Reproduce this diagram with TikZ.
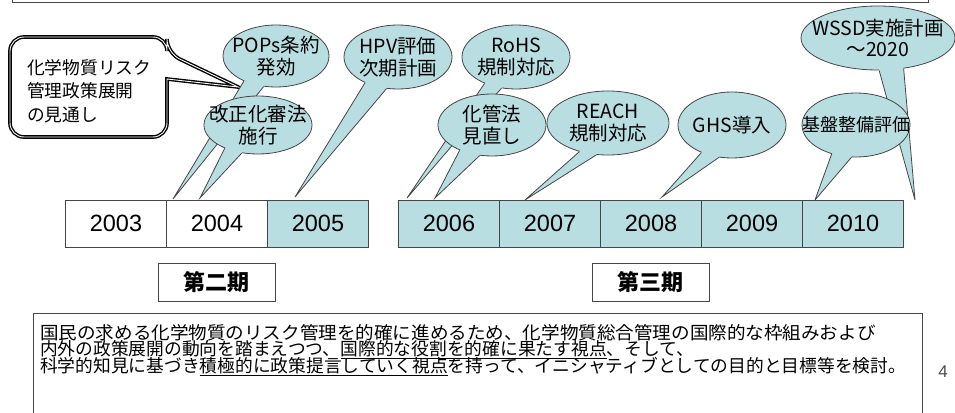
\documentclass[tikz,border=0pt]{standalone}
\usepackage{fontspec}
\usepackage{graphicx}
\setmainfont{Noto Sans CJK JP}
\newfontfamily\arialf{Liberation Sans}
\usetikzlibrary{shapes.geometric,calc}
\definecolor{bubfill}{RGB}{185,222,226}
\definecolor{edgegray}{RGB}{70,70,70}
\tikzset{
  bubble/.style={ellipse, draw=edgegray, fill=bubfill, line width=0.8pt, inner sep=0pt},
  bubtext/.style={align=center, inner sep=0pt, font=\fontsize{19.5}{21.5}\selectfont},
  bubline/.style={draw=edgegray, line width=0.8pt, line join=miter},
  yearbox/.style={draw=edgegray, line width=1pt, minimum width=101pt, minimum height=47pt, inner sep=0pt, font=\arialf\fontsize{23.5}{26}\selectfont},
  periodbox/.style={draw=edgegray, line width=1pt, minimum width=117pt, minimum height=38pt, inner sep=0pt, font=\bfseries\fontsize{22}{24}\selectfont},
  bodyline/.style={anchor=west, inner sep=0pt, font=\fontsize{17.75}{17}\selectfont},
}
\newcommand\bubtail[4]{%
  \fill[bubfill] (#1.#2) -- (#4) -- (#1.#3) -- ($(#1.#3)!3pt!(#1.center)$) -- ($(#1.#2)!3pt!(#1.center)$) -- cycle;
  \draw[bubline] (#1.#2) -- (#4) -- (#1.#3);
}
\begin{document}
\begin{tikzpicture}[x=1pt,y=-1pt]
\useasboundingbox (0,0) rectangle (955,412);
\fill[white] (0,0) rectangle (955,412);

% top frame (only its lower edge is visible)
\draw[edgegray, line width=1pt] (12,-20) rectangle (928,3);

% tip coordinates
\coordinate (tpops) at (173,199);
\coordinate (tkaisei) at (200,198);
\coordinate (thpv) at (295,197);
\coordinate (trohs) at (407,198);
\coordinate (tkakan) at (435,198);
\coordinate (treach) at (525,200);
\coordinate (tghs) at (662,197);
\coordinate (tkiban) at (815,200);
\coordinate (twssd) at (915,200);

% callout
\draw[black, line width=1.4pt, double=white, double distance=0.9pt, fill=white]
  (60,37) [rounded corners=14pt] -- (167,37) -- (167,53) [sharp corners] -- (238,87) -- (167,79)
  [rounded corners=14pt] -- (167,137) -- (10,137) -- (10,37) -- cycle;
\node[anchor=west, align=left, inner sep=0pt, font=\fontsize{17.75}{23.5}\selectfont] (ctext) at (27,91) {化学物質リスク\\管理政策展開\\の見通し};

% bubbles
\node[bubble, minimum width=106pt, minimum height=62pt] (pops) at (276,56) {};
\bubtail{pops}{218}{248}{tpops}
\node[bubtext] (popst) at (pops) {POPs条約\\発効};

\node[bubble, minimum width=108pt, minimum height=58pt] (kaisei) at (258,125) {};
\bubtail{kaisei}{215}{240}{tkaisei}
\node[bubtext] (kaiseit) at (kaisei) {改正化審法\\施行};

\node[bubble, minimum width=108pt, minimum height=64pt] (hpv) at (398,57) {};
\bubtail{hpv}{218}{250}{thpv}
\node[bubtext] (hpvt) at (hpv) {HPV評価\\次期計画};

\node[bubble, minimum width=108pt, minimum height=64pt] (rohs) at (516,57) {};
\bubtail{rohs}{220}{245}{trohs}
\node[bubtext] (rohst) at (rohs) {RoHS\\規制対応};

\node[bubble, minimum width=108pt, minimum height=62pt] (kakan) at (492,125) {};
\bubtail{kakan}{218}{248}{tkakan}
\node[bubtext] (kakant) at (kakan) {化管法\\見直し};

\node[bubble, minimum width=122pt, minimum height=64pt] (reach) at (608,123) {};
\bubtail{reach}{225}{250}{treach}
\node[bubtext] (reacht) at (reach) {REACH\\規制対応};

\node[bubble, minimum width=108pt, minimum height=66pt] (ghs) at (732,125) {};
\bubtail{ghs}{222}{248}{tghs}
\node[bubtext] (ghst) at (ghs) {GHS導入};

\node[bubble, minimum width=154pt, minimum height=64pt] (wssd) at (878,38) {};
\bubtail{wssd}{272}{310}{twssd}
\node[bubtext] (wssdt) at (wssd) {WSSD実施計画\\～2020};

\node[bubble, minimum width=108pt, minimum height=64pt] (kiban) at (856,125) {};
\bubtail{kiban}{230}{262}{tkiban}
\node[bubtext, font=\fontsize{18}{21}\selectfont] (kibant) at (kiban) {基盤整備評価};

% timeline
\node[yearbox, fill=white] (y2003) at (116,223.5) {2003};
\node[yearbox, fill=white] (y2004) at (217,223.5) {2004};
\node[yearbox, fill=bubfill] (y2005) at (318,223.5) {2005};
\node[yearbox, fill=bubfill] (y2006) at (449,223.5) {2006};
\node[yearbox, fill=bubfill] (y2007) at (550,223.5) {2007};
\node[yearbox, fill=bubfill] (y2008) at (651,223.5) {2008};
\node[yearbox, fill=bubfill] (y2009) at (752,223.5) {2009};
\node[yearbox, fill=bubfill] (y2010) at (853,223.5) {2010};

% periods
\node[periodbox] (p2) at (216.5,282) {第二期};
\node[periodbox] (p3) at (650.5,282) {第三期};

% bottom text frame
\draw[edgegray, line width=1pt] (33,313) rectangle (922,440);
\node[bodyline] (l1) at (40,333) {\scalebox{1.046}[1]{国民の求める化学物質のリスク管理を的確に進めるため、化学物質総合管理の国際的な枠組みおよび}};
\node[bodyline] (l2) at (40,350) {内外の政策展開の動向を踏まえつつ、\underline{国際的な役割を的確に果たす視点}、そして、};
\node[bodyline] (l3) at (40,366.5) {科学的知見に基づき\underline{積極的に政策提言していく視点}を持って、イニシャティブとしての目的と目標等を検討。};

\node[font=\arialf\fontsize{17}{20}\selectfont, text=black!70] (pg) at (943,372) {4};
\end{tikzpicture}
\end{document}
